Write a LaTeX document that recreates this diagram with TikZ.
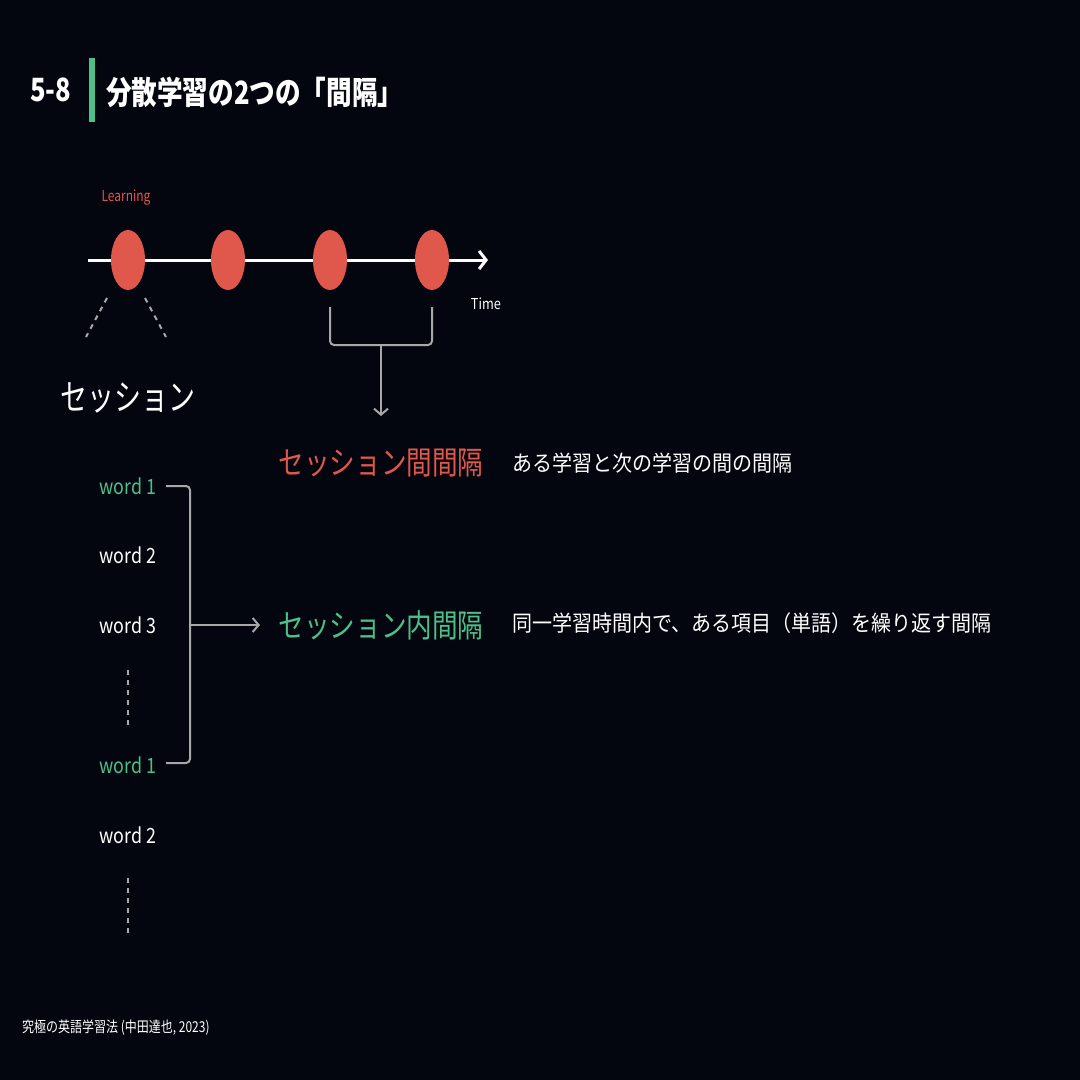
\documentclass[tikz,border=0pt]{standalone}
\usepackage{fontspec}
\setmainfont{Noto Sans CJK JP}
\usetikzlibrary{arrows.meta,shapes.geometric}
\definecolor{bg}{HTML}{03060F}
\definecolor{rd}{HTML}{E0574C}
\definecolor{gn}{HTML}{4DC08A}
\definecolor{gr}{HTML}{A8A8A8}
\tikzset{
 txt/.style={text=white,inner sep=0pt},
 fz/.style={font=\fontsize{#1}{#1}\selectfont},
 dot/.style={ellipse,fill=rd,minimum width=34pt,minimum height=60pt,inner sep=0pt},
 wordlbl/.style={txt,fz=21,xscale=0.85},
 gline/.style={draw=gr,line width=2pt},
 dsh/.style={gr,line width=2pt,dash pattern=on 5pt off 5pt},
}
\begin{document}
\begin{tikzpicture}[x=1pt,y=-1pt]
\fill[bg] (0,0) rectangle (1080,1080);
\node[txt,font=\fontsize{32}{32}\selectfont\bfseries,anchor=west,xscale=0.8] (num) at (30,90) {5-8};
\fill[gn] (89,58) rectangle (95,122);
\node[txt,font=\fontsize{32}{32}\selectfont\bfseries,anchor=west,xscale=0.8] (title) at (106,92) {分散学習の2つの「間隔」};
\node[txt,text=rd,fz=15,xscale=0.8] (learn) at (126,198) {Learning};
\coordinate (a0) at (88,260);
\coordinate (a1) at (488,260);
\draw[white,line width=3pt,-{Straight Barb[length=7pt,width=18pt]}] (a0) -- (a1);
\node[dot] (e1) at (128,260) {};
\node[dot] (e2) at (228,260) {};
\node[dot] (e3) at (330,260) {};
\node[dot] (e4) at (432,260) {};
\node[txt,fz=15,xscale=0.85] (time) at (486,304) {Time};
\coordinate (d1) at (107,298); \coordinate (d2) at (86,337);
\coordinate (d3) at (145,298); \coordinate (d4) at (166,337);
\draw[dsh] (d1) -- (d2);
\draw[dsh] (d3) -- (d4);
\node[txt,fz=36,xscale=0.75] (sess) at (128,398) {セッション};
\coordinate (b1) at (330,307); \coordinate (b2) at (432,307);
\coordinate (bm) at (381,345); \coordinate (bt) at (381,416);
\draw[gline,rounded corners=4pt] (b1) |- (bm) -| (b2);
\draw[gline,-{Straight Barb[length=6pt,width=14pt]}] (bm) -- (bt);
\node[txt,text=rd,fz=32,xscale=0.8] (between) at (381,463) {セッション間間隔};
\node[txt,fz=22,anchor=west,xscale=0.91] (bdesc) at (512,463) {ある学習と次の学習の間の間隔};
\node[wordlbl,text=gn] (w1) at (128,486) {word 1};
\node[wordlbl] (w2) at (128,555) {word 2};
\node[wordlbl] (w3) at (128,625) {word 3};
\coordinate (v1) at (128,670); \coordinate (v2) at (128,725);
\draw[dsh,line width=1.5pt] (v1) -- (v2);
\node[wordlbl,text=gn] (w4) at (128,765) {word 1};
\node[wordlbl] (w5) at (128,835) {word 2};
\coordinate (v3) at (128,878); \coordinate (v4) at (128,935);
\draw[dsh,line width=1.5pt] (v3) -- (v4);
\coordinate (r1) at (166,486); \coordinate (r2) at (166,763);
\coordinate (rm) at (190,625); \coordinate (rt) at (260,625);
\draw[gline,rounded corners=4pt] (r1) -- (190,486) -- (190,763) -- (r2);
\draw[gline,-{Straight Barb[length=6pt,width=14pt]}] (rm) -- (rt);
\node[txt,text=gn,fz=32,xscale=0.8] (within) at (381,625) {セッション内間隔};
\node[txt,fz=22,anchor=west,xscale=0.91] (wdesc) at (512,623) {同一学習時間内で、ある項目（単語）を繰り返す間隔};
\node[txt,fz=15,anchor=west,xscale=0.8] (foot) at (22,1028) {究極の英語学習法 (中田達也, 2023)};
\end{tikzpicture}
\end{document}
